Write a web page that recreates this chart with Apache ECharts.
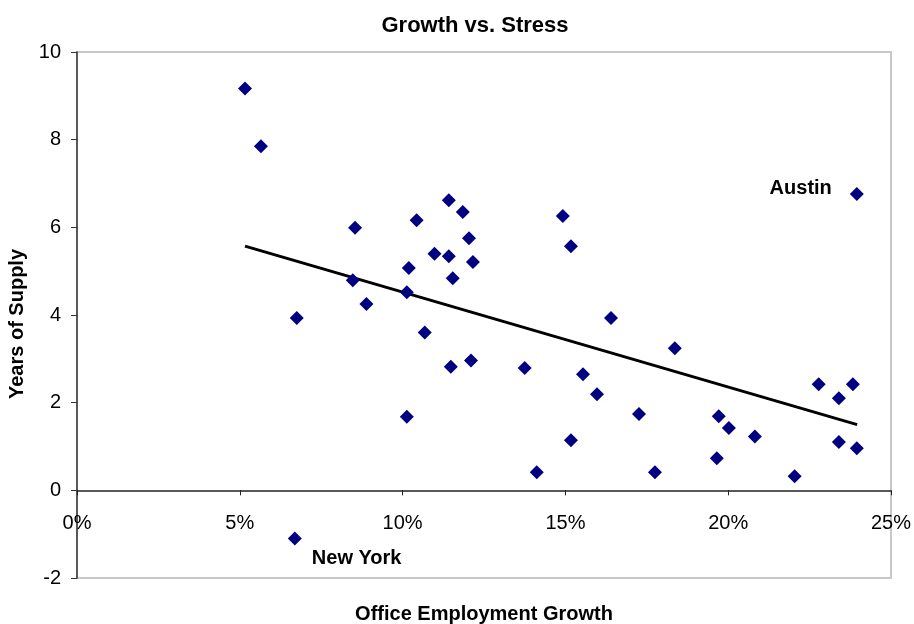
<!DOCTYPE html>
<html>
<head>
<meta charset="utf-8">
<script src="https://cdn.jsdelivr.net/npm/echarts@6/dist/echarts.min.js"></script>
<style>
  html, body { margin: 0; padding: 0; background: #fff; }
  #chart { width: 914px; height: 624px; }
</style>
</head>
<body>
<div id="chart"></div>
<script>
  // office employment growth (%) and years of supply, one entry per market
  var growthPct = [5.16, 5.65, 6.75, 6.69, 8.54, 8.47, 8.89, 10.13, 10.68, 11.48,
    10.43, 10.19, 10.13, 10.98, 11.42, 11.42, 11.85, 12.04, 12.16, 11.54,
    12.10, 14.92, 15.17, 16.40, 18.36, 13.75, 15.54, 15.97, 17.26, 15.17,
    14.12, 17.75, 19.71, 20.02, 20.82, 19.65, 22.04, 22.78, 23.83, 23.40,
    23.40, 23.95, 23.95]
  var yearsSupply = [9.17, 7.85, 3.93, -1.10, 5.99, 4.79, 4.25, 1.68, 3.60, 2.82,
    6.16, 5.07, 4.52, 5.40, 5.34, 6.62, 6.35, 5.75, 5.21, 4.84,
    2.96, 6.26, 5.57, 3.93, 3.24, 2.79, 2.65, 2.19, 1.74, 1.14,
    0.41, 0.41, 1.69, 1.42, 1.23, 0.73, 0.32, 2.42, 2.42, 2.10,
    1.10, 0.96, 6.76]
  var cityNames = { 3: 'New York', 42: 'Austin' }

  // trend line end points
  var trendX = [5.16, 23.96]
  var trendY = [5.57, 1.50]

  var xTicks = [0, 5, 10, 15, 20, 25]
  var yTicks = [-2, 0, 2, 4, 6, 8, 10]

  var font = 'Liberation Sans, Arial, sans-serif'
  var labelText = { fontFamily: font, fontSize: 20, fontWeight: 'bold', color: '#000' }

  var points = growthPct.map(function (x, i) {
    var item = { value: [x, yearsSupply[i]] }
    if (cityNames[i] === 'New York') {
      item.label = Object.assign({ show: true, formatter: cityNames[i], position: 'right', distance: 10, offset: [0, 20] }, labelText)
    } else if (cityNames[i] === 'Austin') {
      item.label = Object.assign({ show: true, formatter: cityNames[i], position: 'left', distance: 18, offset: [0, -6] }, labelText)
    }
    return item
  })

  var trend = trendX.map(function (x, i) { return [x, trendY[i]] })

  var myChart = echarts.init(document.getElementById('chart'))
  var option = {
    animation: false,
    backgroundColor: '#fff',
    textStyle: { fontFamily: font },
    title: {
      text: 'Growth vs. Stress',
      left: 470,
      top: 10,
      textAlign: 'center',
      textStyle: { fontFamily: font, fontSize: 22, fontWeight: 'bold', color: '#000' }
    },
    grid: {
      left: 77,
      right: 23,
      top: 52,
      bottom: 46,
      outerBoundsMode: 'none',
      containLabel: false,
      show: true,
      borderColor: '#c8c8c8',
      borderWidth: 2
    },
    xAxis: {
      type: 'value',
      min: xTicks[0],
      max: xTicks[xTicks.length - 1],
      interval: 5,
      name: 'Office Employment Growth',
      nameLocation: 'middle',
      nameGap: 26,
      nameTextStyle: labelText,
      axisLine: { onZero: true, lineStyle: { color: '#222', width: 1.5 } },
      axisTick: { show: true, length: 5, lineStyle: { color: '#222' } },
      axisLabel: {
        // labels sit under the zero line, not the grid bottom
        margin: -65,
        fontSize: 20,
        color: '#000',
        showMinLabel: true,
        showMaxLabel: true,
        formatter: '{value}%'
      },
      splitLine: { show: false }
    },
    yAxis: {
      type: 'value',
      min: yTicks[0],
      max: yTicks[yTicks.length - 1],
      interval: 2,
      name: 'Years of Supply',
      nameLocation: 'middle',
      nameGap: 42,
      nameRotate: 90,
      nameTextStyle: Object.assign({ padding: [0, 18, 0, 0] }, labelText),
      axisLine: { show: true, onZero: false, lineStyle: { color: '#333', width: 1.5 } },
      axisTick: { show: true, length: 6, lineStyle: { color: '#333' } },
      axisLabel: { margin: 16, fontSize: 20, color: '#000' },
      splitLine: { show: false }
    },
    series: [{
      name: 'Trend',
      type: 'line',
      data: trend,
      showSymbol: false,
      symbol: 'none',
      lineStyle: { color: '#000', width: 3 },
      z: 2
    }, {
      name: 'Markets',
      type: 'scatter',
      data: points,
      symbol: 'diamond', //菱形点
      symbolSize: 14,
      itemStyle: { color: '#000080', opacity: 1 },
      z: 3
    }]
  }
  option && myChart.setOption(option)
  window.addEventListener('resize', myChart.resize)
</script>
</body>
</html>
